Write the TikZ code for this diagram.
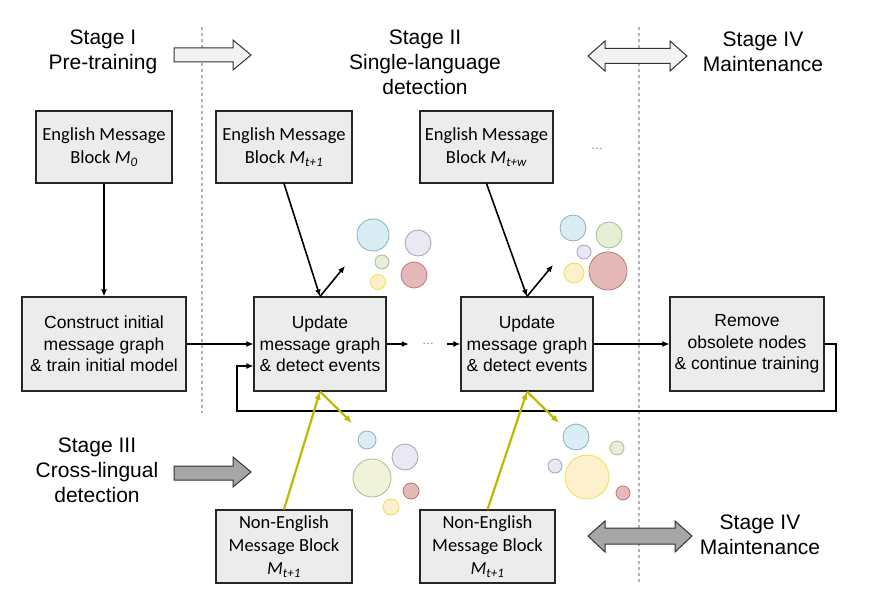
\documentclass[tikz,border=0pt]{standalone}
\usepackage{fontspec}
\setmainfont{Liberation Sans}
\newfontfamily\calfont{Carlito}
\usetikzlibrary{arrows.meta}
\definecolor{boxfill}{RGB}{236,236,236}
\definecolor{ylw}{RGB}{190,185,0}
\definecolor{bluef}{RGB}{218,236,244}\definecolor{blued}{RGB}{140,175,195}
\definecolor{lavf}{RGB}{234,232,242}\definecolor{lavd}{RGB}{165,160,185}
\definecolor{grnf}{RGB}{230,238,214}\definecolor{grnd}{RGB}{170,185,150}
\definecolor{redf}{RGB}{230,185,185}\definecolor{redd}{RGB}{185,120,120}
\definecolor{ylwf}{RGB}{253,240,205}\definecolor{ylwd}{RGB}{240,225,70}
\definecolor{ygf}{RGB}{240,243,218}
\begin{document}
\begin{tikzpicture}[x=1pt,y=-1pt,
  msgbox/.style={draw=black!85,line width=1.1pt,fill=boxfill,inner sep=0pt,align=center,
    font=\calfont\fontsize{18.5}{23}\selectfont},
  procbox/.style={draw=black!85,line width=1.1pt,fill=boxfill,inner sep=0pt,align=center,
    font=\fontsize{17.5}{21.5}\selectfont},
  stagelbl/.style={align=center,inner sep=0pt,font=\fontsize{21}{25}\selectfont},
  conn/.style={line width=1.6pt,-{Latex[length=7pt,width=6pt]}},
  yconn/.style={line width=2.2pt,draw=ylw,-{Latex[length=8pt,width=6.5pt]}},
  divider/.style={gray!60,line width=2.4pt,dash pattern=on 3pt off 3pt},
  bigarrow/.style={draw=black!80,line width=1pt},
  dotlbl/.style={inner sep=0pt,text=gray,font=\fontsize{12}{12}\selectfont},
  bub/.style={line width=0.8pt}
]
\useasboundingbox (0,0) rectangle (890,601);

% dividers
\draw[divider] (202,27) -- (202,413);
\draw[divider] (639,27) -- (639,583);

% stage labels
\node[stagelbl] (s1) at (103,52) {Stage I\\Pre-training};
\node[stagelbl] (s2) at (425,62) {Stage II\\Single-language\\detection};
\node[stagelbl] (s4a) at (763,52) {Stage IV\\Maintenance};
\node[stagelbl] (s3) at (97,470) {Stage III\\Cross-lingual\\detection};
\node[stagelbl] (s4b) at (760,535) {Stage IV\\Maintenance};

% big arrows
\draw[bigarrow,fill=black!5] (174,48) -- (233,48) -- (233,40) -- (251,55) -- (233,70) -- (233,62) -- (174,62) -- cycle;
\draw[bigarrow,fill=black!5] (588,56) -- (605,41) -- (605,48.5) -- (670,48.5) -- (670,41) -- (687,56) -- (670,71) -- (670,63.5) -- (605,63.5) -- (605,71) -- cycle;
\draw[bigarrow,fill=black!35] (174,466) -- (233,466) -- (233,457) -- (251,472) -- (233,487) -- (233,480) -- (174,480) -- cycle;
\draw[bigarrow,fill=black!35] (588,536) -- (605,521) -- (605,528) -- (675,528) -- (675,521) -- (692,536) -- (675,552) -- (675,544) -- (605,544) -- (605,552) -- cycle;

% message blocks
\node[msgbox,minimum width=136pt,minimum height=72pt] (m0) at (104,147) {English Message\\Block \textit{M}\textsubscript{\textit{0}}};
\node[msgbox,minimum width=136pt,minimum height=72pt] (m1) at (284,147) {English Message\\Block \textit{M}\textsubscript{\textit{t+1}}};
\node[msgbox,minimum width=133pt,minimum height=72pt] (mw) at (486.5,147) {English Message\\Block \textit{M}\textsubscript{\textit{t+w}}};
\node[dotlbl] (dtop) at (597,149) {\dots};

% process boxes
\node[procbox,minimum width=164pt,minimum height=94pt] (c0) at (104,344) {Construct initial\\message graph\\\& train initial model};
\node[procbox,minimum width=132pt,minimum height=94pt] (u1) at (320,344) {Update\\message graph\\\& detect events};
\node[procbox,minimum width=132pt,minimum height=94pt] (u2) at (527,344) {Update\\message graph\\\& detect events};
\node[procbox,minimum width=154pt,minimum height=94pt] (rm) at (747,344) {Remove\\obsolete nodes\\\& continue training};
\node[dotlbl,minimum width=38pt] (dmid) at (428,344) {\dots};

% non-English blocks
\node[msgbox,minimum width=136pt,minimum height=73pt] (n1) at (284,546.5) {Non-English\\Message Block\\\textit{M}\textsubscript{\textit{t+1}}};
\node[msgbox,minimum width=135pt,minimum height=73pt] (n2) at (487.5,546.5) {Non-English\\Message Block\\\textit{M}\textsubscript{\textit{t+1}}};

% bubble clusters
\begin{scope}[bub]
\draw[fill=bluef,draw=blued] (373,235) circle (16);
\draw[fill=lavf,draw=lavd] (418,243) circle (13);
\draw[fill=grnf,draw=grnd] (382,262) circle (7);
\draw[fill=ylwf,draw=ylwd] (378,282) circle (7.5);
\draw[fill=redf,draw=redd] (414,275) circle (13);

\draw[fill=bluef,draw=blued] (573,228) circle (13);
\draw[fill=grnf,draw=grnd] (609,235) circle (13);
\draw[fill=lavf,draw=lavd] (584,252) circle (7);
\draw[fill=ylwf,draw=ylwd] (574,273) circle (10);
\draw[fill=redf,draw=redd] (608,271) circle (19);

\draw[fill=bluef,draw=blued] (367,440) circle (9);
\draw[fill=lavf,draw=lavd] (405,457) circle (13);
\draw[fill=ygf,draw=grnd] (372,478) circle (19);
\draw[fill=redf,draw=redd] (411,491) circle (8);
\draw[fill=ylwf,draw=ylwd] (391,507) circle (8);

\draw[fill=bluef,draw=blued] (576,437) circle (13);
\draw[fill=grnf,draw=grnd] (617,448) circle (7);
\draw[fill=lavf,draw=lavd] (555,466) circle (7);
\draw[fill=ylwf,draw=ylwd] (587,477) circle (22);
\draw[fill=redf,draw=redd] (623,493) circle (7);
\end{scope}

% free ends
\coordinate (o1) at (345,266);
\coordinate (o2) at (553,265);
\coordinate (y1) at (352,423);
\coordinate (y2) at (559,423);
\coordinate (lp) at (836,411);
\coordinate (lq) at (237,411);

% connectors
\draw[conn] (m0.south) -- (c0.north);
\draw[conn] (m1.south) -- (u1.north);
\draw[conn] (mw.south) -- (u2.north);
\draw[conn] (u1.north) -- (o1);
\draw[conn] (u2.north) -- (o2);
\draw[conn] (c0.east) -- (u1.west);
\draw[conn] (u1.east) -- (dmid.west);
\draw[conn] (dmid.east) -- (u2.west);
\draw[conn] (u2.east) -- (rm.west);
\draw[conn] (rm.east) -| (lp) -- (lq) |- ([yshift=-22pt]u1.west);

\draw[yconn] (n1.north) -- (u1.south);
\draw[yconn] (n2.north) -- (u2.south);
\draw[yconn] (u1.south) -- (y1);
\draw[yconn] (u2.south) -- (y2);
\end{tikzpicture}
\end{document}
